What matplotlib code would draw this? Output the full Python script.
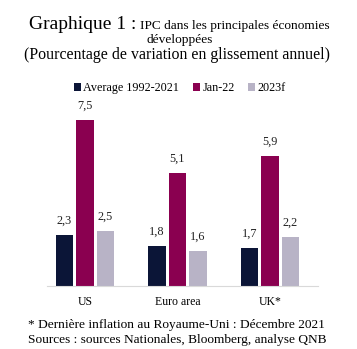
import matplotlib
matplotlib.use("Agg")
import matplotlib.pyplot as plt
import numpy as np

plt.rcParams['font.family'] = ['Liberation Serif', 'DejaVu Serif']

categories = ['US', 'Euro area', 'UK*']
series_names = ['Average 1992-2021', 'Jan-22', '2023f']
avg = [2.3, 1.8, 1.7]
jan22 = [7.5, 5.1, 5.9]
f2023 = [2.5, 1.6, 2.2]
colors = ['#0b1537', '#8a0050', '#b8b3c6']

W, H = 357, 349
fig = plt.figure(figsize=(W / 100, H / 100), dpi=100)
ax = fig.add_axes([47 / W, (H - 286) / H, 271 / W, 186 / H])

x = np.arange(len(categories))
off = 0.222
bw = 0.19
for vals, dx, c, name in zip([avg, jan22, f2023], [-off, 0, off], colors, series_names):
    bars = ax.bar(x + dx, vals, bw, color=c, label=name)
    for b, v in zip(bars, vals):
        ax.annotate(('%.1f' % v).replace('.', ','), (b.get_x() + b.get_width() / 2, v),
                    xytext=(0, 6), textcoords='offset points', ha='center', va='bottom',
                    fontsize=8.8, color='#222222')

ax.set_xlim(-0.41, 2.52)
ax.set_ylim(0, 8.42)
ax.set_yticks([])
ax.set_xticks(x)
ax.set_xticklabels(categories, fontsize=8.5)
ax.tick_params(axis='x', length=0, pad=7)
for s in ['top', 'right', 'left']:
    ax.spines[s].set_visible(False)
ax.spines['bottom'].set_color('#d9d9d9')

ax.legend(loc='lower center', bbox_to_anchor=(0.49, 1.0), ncol=3, frameon=False,
          fontsize=8.7, handlelength=0.6, handleheight=0.6, handletextpad=0.2,
          columnspacing=1.1, borderaxespad=0.1)

def fy(py):
    return 1 - py / H

fig.text(136 / W, fy(29), 'Graphique 1 :', ha='right', va='baseline', fontsize=14)
fig.text(140 / W, fy(29), 'IPC dans les principales économies', ha='left', va='baseline', fontsize=9.6)
fig.text(180 / W, fy(43), 'développées', ha='center', va='baseline', fontsize=9.6)
fig.text(177 / W, fy(59), '(Pourcentage de variation en glissement annuel)', ha='center',
         va='baseline', fontsize=11.4)
fig.text(28 / W, fy(328), '* Dernière inflation au Royaume-Uni : Décembre 2021', ha='left',
         va='baseline', fontsize=9.6)
fig.text(28 / W, fy(343), 'Sources : sources Nationales, Bloomberg, analyse QNB', ha='left',
         va='baseline', fontsize=9.6)

fig.savefig('out.png', dpi=100)
